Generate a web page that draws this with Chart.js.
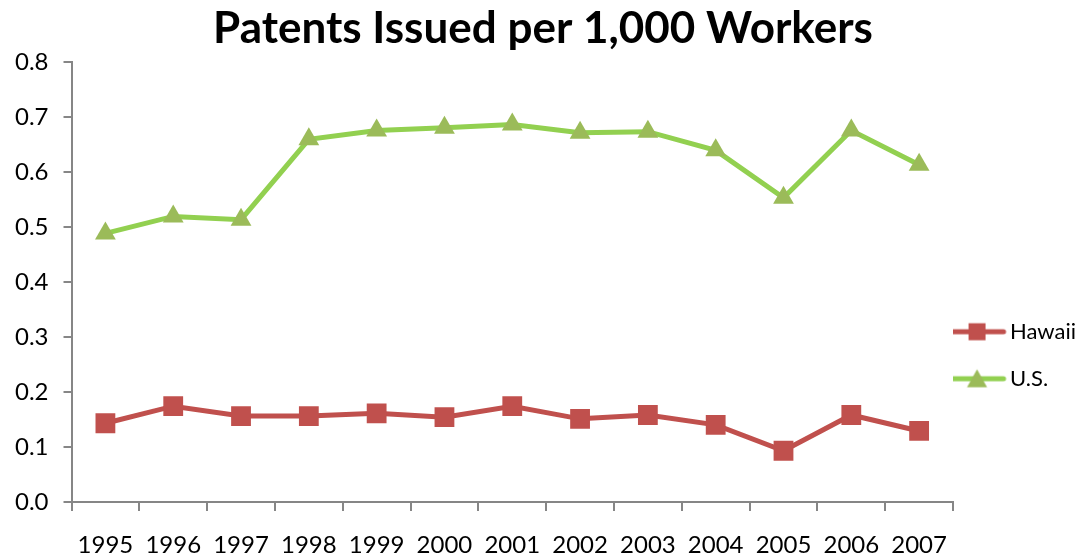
<!DOCTYPE html>
<html lang="en">
<head>
  <meta charset="UTF-8" />
  <title>Patents Issued per 1,000 Workers</title>
  <style>
    html, body { margin: 0; padding: 0; background: #fff; }
    #wrap { width: 1086px; height: 556px; }
  </style>
  <script src="https://cdn.jsdelivr.net/npm/chart.js"></script>
</head>
<body>
  <div id="wrap"><canvas id="patents"></canvas></div>

  <script>
    // ─── Data ───────────────────────────────────────────
    const YEARS  = ['1995','1996','1997','1998','1999','2000','2001','2002','2003','2004','2005','2006','2007'];
    const HAWAII = [0.143, 0.174, 0.156, 0.156, 0.161, 0.154, 0.174, 0.151, 0.158, 0.140, 0.093, 0.158, 0.129];
    const US     = [0.488, 0.519, 0.513, 0.659, 0.675, 0.680, 0.686, 0.671, 0.673, 0.639, 0.553, 0.675, 0.613];
    const Y_MIN = 0, Y_MAX = 0.8, Y_STEP = 0.1;

    const FONT = "Lato, 'Open Sans', sans-serif";
    const AXIS = '#868686';

    // legend swatch: short line with the marker in the middle.
    // drawn in the left part of a wider canvas so it sits a bit left of the legend box
    function swatch(lineColor, markColor, shape) {
      const c = document.createElement('canvas');
      c.width = 84; c.height = 22;
      const g = c.getContext('2d');
      g.strokeStyle = lineColor; g.lineWidth = 5; g.lineCap = 'round';
      g.beginPath(); g.moveTo(4, 11); g.lineTo(57, 11); g.stroke();
      g.fillStyle = markColor;
      if (shape === 'rect') {
        g.fillRect(22, 2.5, 17, 17);
      } else {
        g.beginPath(); g.moveTo(30.5, 1.5); g.lineTo(40.5, 19.5); g.lineTo(20.5, 19.5); g.closePath(); g.fill();
      }
      return c;
    }

    const ctx = document.getElementById('patents').getContext('2d');
    new Chart(ctx, {
      type: 'line',
      data: {
        labels: YEARS,
        datasets: [
          {
            label: 'Hawaii', data: HAWAII,
            borderColor: '#C0504D', borderWidth: 5,
            pointStyle: 'rect', pointRadius: 14, pointHoverRadius: 14,
            pointBackgroundColor: '#C0504D', pointBorderWidth: 0,
            swatch: swatch('#C0504D', '#C0504D', 'rect')
          },
          {
            label: 'U.S.', data: US,
            borderColor: '#92D050', borderWidth: 5,
            pointStyle: 'triangle', pointRadius: 12, pointHoverRadius: 12,
            pointBackgroundColor: '#9BBB59', pointBorderWidth: 0,
            swatch: swatch('#92D050', '#9BBB59', 'triangle')
          }
        ]
      },
      options: {
        responsive: true,
        maintainAspectRatio: false,
        animation: false,
        layout: { padding: { left: 0, right: 0, bottom: 0, top: 2 } },
        scales: {
          x: {
            offset: true,
            // long tick slot keeps the year labels low; the dash only paints the first 8px
            grid: { offset: true, drawOnChartArea: false, drawTicks: true, tickLength: 32,
                    tickBorderDash: [8, 200], color: AXIS, lineWidth: 2 },
            border: { color: AXIS, width: 2 },
            ticks: { color: '#000', font: { family: FONT, size: 24, lineHeight: 0.92 }, padding: 0,
                     maxRotation: 0, autoSkip: false }
          },
          y: {
            min: Y_MIN, max: Y_MAX,
            grid: { drawOnChartArea: false, drawTicks: true, tickLength: 8, color: AXIS, lineWidth: 2 },
            border: { color: AXIS, width: 2 },
            ticks: { stepSize: Y_STEP, color: '#000', font: { family: FONT, size: 24 }, padding: 15,
                     callback: v => Number(v).toFixed(1) }
          }
        },
        plugins: {
          title: {
            display: true,
            text: 'Patents Issued per 1,000 Workers',
            color: '#000',
            font: { family: FONT, size: 44, weight: 'bold' },
            padding: { top: 0, bottom: 7 }
          },
          legend: {
            position: 'right',
            align: 'center',
            // empty title used as a spacer to push the items down
            title: { display: true, text: '', padding: { top: 138, bottom: 0 } },
            labels: {
              usePointStyle: true,
              pointStyleWidth: 21,
              color: '#000',
              font: { family: FONT, size: 22 },
              padding: 25,
              generateLabels: chart => chart.data.datasets.map((ds, i) => ({
                text: ds.label,
                pointStyle: ds.swatch,
                fontColor: '#000',
                datasetIndex: i,
                hidden: false,
                lineWidth: 0
              }))
            }
          },
          tooltip: { enabled: false }
        }
      }
    });
  </script>
</body>
</html>
